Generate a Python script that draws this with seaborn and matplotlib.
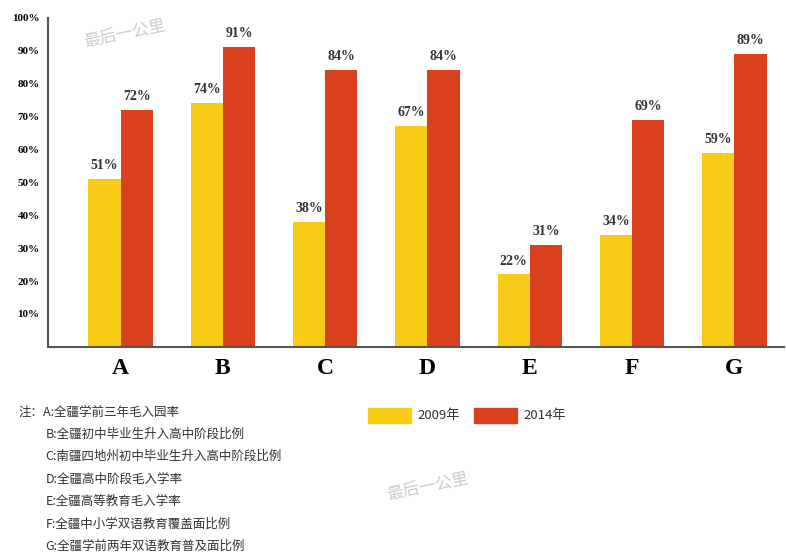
import matplotlib
matplotlib.use("Agg")
import matplotlib.pyplot as plt
import seaborn as sns
import pandas as pd

categories = ["A", "B", "C", "D", "E", "F", "G"]
values_2009 = [51, 74, 38, 67, 22, 34, 59]
values_2014 = [72, 91, 84, 84, 31, 69, 89]
series = ["2009年", "2014年"]
colors = ["#f7cb16", "#d9411e"]
notes = [
    "注：A:全疆学前三年毛入园率",
    "B:全疆初中毕业生升入高中阶段比例",
    "C:南疆四地州初中毕业生升入高中阶段比例",
    "D:全疆高中阶段毛入学率",
    "E:全疆高等教育毛入学率",
    "F:全疆中小学双语教育覆盖面比例",
    "G:全疆学前两年双语教育普及面比例",
]

df = pd.DataFrame({
    "cat": categories * 2,
    "year": [series[0]] * 7 + [series[1]] * 7,
    "val": values_2009 + values_2014,
})

plt.rcParams["font.family"] = ["Noto Sans CJK SC"]
fig = plt.figure(figsize=(7.86, 5.55), dpi=100)
ax = fig.add_axes([0.061, 0.375, 0.937, 0.593])
sns.barplot(data=df, x="cat", y="val", hue="year", palette=colors,
            width=0.63, gap=0, saturation=1, ax=ax, legend=False)
ax.set_ylim(0, 100)
ax.set_xlim(-0.71, 6.49)
ax.set_yticks(range(10, 101, 10))
ax.set_yticklabels([f"{v}%" for v in range(10, 101, 10)],
                   fontfamily="Liberation Serif", fontweight="bold", fontsize=8)
ax.set_xticklabels(categories, fontfamily="Liberation Serif", fontweight="bold", fontsize=17)
ax.tick_params(axis="y", length=0, pad=6)
ax.tick_params(axis="x", length=0, pad=8)
ax.set_xlabel("")
ax.set_ylabel("")
for s in ["top", "right"]:
    ax.spines[s].set_visible(False)
ax.spines["left"].set_color("#555555")
ax.spines["left"].set_linewidth(1.5)
ax.spines["bottom"].set_color("#555555")
ax.spines["bottom"].set_linewidth(1.5)

for cont in ax.containers:
    ax.bar_label(cont, labels=[f"{int(v)}%" for v in cont.datavalues], padding=5,
                 fontfamily="Liberation Serif", fontweight="bold", fontsize=10, color="#333333")

# legend
for i, (lab, c) in enumerate(zip(series, colors)):
    x0 = 0.468 + i * 0.135
    fig.patches.append(plt.Rectangle((x0, 0.237), 0.055, 0.028, color=c,
                                     transform=fig.transFigure, figure=fig))
    fig.text(x0 + 0.063, 0.251, lab, fontsize=9.5, va="center", color="#333333")

# notes
for i, t in enumerate(notes):
    x = 0.023 if i == 0 else 0.058
    fig.text(x, 0.258 - i * 0.0405, t, fontsize=9, va="center", color="#333333")

fig.text(0.105, 0.97, "最后一公里", fontsize=12, color="#cccccc", rotation=12, va="top")
fig.text(0.49, 0.1, "最后一公里", fontsize=12, color="#cccccc", rotation=12)

fig.savefig("out.png", dpi=100)
